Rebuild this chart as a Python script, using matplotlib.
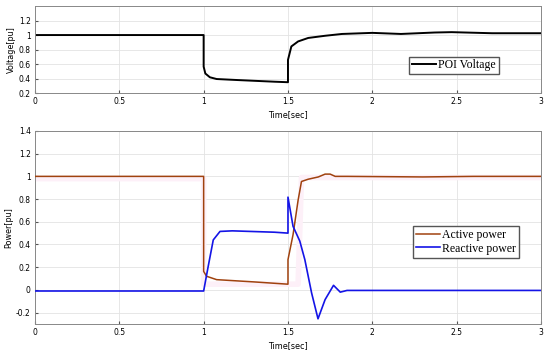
import matplotlib.pyplot as plt

# POI voltage (pu)
t_v = [0, 1.0, 1.0, 1.01, 1.037, 1.077, 1.2, 1.42, 1.5, 1.5, 1.52, 1.56, 1.62, 1.72,
       1.82, 2.0, 2.17, 2.37, 2.47, 2.71, 3.0]
v = [1.0, 1.0, 0.565, 0.47, 0.418, 0.394, 0.38, 0.357, 0.35, 0.658, 0.843, 0.912,
     0.96, 0.99, 1.015, 1.03, 1.015, 1.035, 1.04, 1.025, 1.025]

# active power (pu)
t_p = [0, 1.0, 1.0, 1.017, 1.077, 1.3, 1.5, 1.5, 1.53, 1.56, 1.58, 1.62, 1.68,
       1.72, 1.75, 1.78, 1.85, 2.3, 2.6, 3.0]
p = [1.0, 1.0, 0.163, 0.12, 0.09, 0.07, 0.05, 0.266, 0.486, 0.79, 0.955, 0.975,
     0.995, 1.02, 1.02, 1.0, 1.0, 0.995, 1.0, 1.0]

# reactive power (pu)
t_q = [0, 1.0, 1.027, 1.057, 1.097, 1.17, 1.42, 1.5, 1.5, 1.53, 1.57, 1.60, 1.64,
       1.678, 1.72, 1.77, 1.81, 1.85, 3.0]
q = [-0.01, -0.01, 0.207, 0.44, 0.515, 0.52, 0.508, 0.5, 0.817, 0.56, 0.43, 0.266,
     -0.027, -0.255, -0.086, 0.04, -0.02, -0.005, -0.005]

# faint active power reference
t_ref = [0, 1.0, 1.0, 1.56, 1.58, 3.0]
p_ref = [0.98, 0.98, 0.05, 0.05, 0.99, 0.99]

fig = plt.figure(figsize=(5.5, 3.54), dpi=100)
ax1 = fig.add_axes([0.0636, 0.737, 0.920, 0.246])
ax2 = fig.add_axes([0.0636, 0.085, 0.920, 0.545])

for ax in (ax1, ax2):
    ax.set_xlim(0, 3)
    ax.grid(True, color='#e3e3e3', linewidth=0.6)
    ax.set_axisbelow(True)
    ax.tick_params(direction='in', labelsize=5.5, length=2.5, color='#555555', pad=3)
    for s in ax.spines.values():
        s.set_color('#888888')
        s.set_linewidth(0.7)
    ax.set_xticks([0, 0.5, 1, 1.5, 2, 2.5, 3])
    ax.set_xticklabels(['0', '0.5', '1', '1.5', '2', '2.5', '3'])
    ax.set_xlabel('Time[sec]', fontsize=5.8, labelpad=3)

ax1.plot(t_v, v, color='black', linewidth=1.4, label='POI Voltage')
ax1.set_ylim(0.2, 1.4)
ax1.set_yticks([0.2, 0.4, 0.6, 0.8, 1.0, 1.2])
ax1.set_yticklabels(['0.2', '0.4', '0.6', '0.8', '1', '1.2'])
ax1.set_ylabel('Voltage[pu]', fontsize=5.8, labelpad=2)
ax1.legend(loc='upper left', bbox_to_anchor=(0.74, 0.42), fancybox=False,
           edgecolor='#555555', framealpha=1, borderaxespad=0,
           prop={'family': 'Liberation Serif', 'size': 8.5},
           handlelength=2.0, handletextpad=0.2, borderpad=0.25)

ax2.plot(t_ref, p_ref, color='#fdf0f8', linewidth=4, zorder=1)
ax2.plot(t_p, p, color='#a0420f', linewidth=1.1, label='Active power', zorder=3)
ax2.plot(t_q, q, color='#1414e6', linewidth=1.2, label='Reactive power', zorder=3)
ax2.set_ylim(-0.3, 1.4)
ax2.set_yticks([-0.2, 0, 0.2, 0.4, 0.6, 0.8, 1.0, 1.2, 1.4])
ax2.set_yticklabels(['-0.2', '0', '0.2', '0.4', '0.6', '0.8', '1', '1.2', '1.4'])
ax2.set_ylabel('Power[pu]', fontsize=5.8, labelpad=2)
ax2.legend(loc='upper left', bbox_to_anchor=(0.747, 0.505), fancybox=False,
           edgecolor='#555555', framealpha=1, borderaxespad=0,
           prop={'family': 'Liberation Serif', 'size': 8.5},
           handlelength=2.0, handletextpad=0.2, borderpad=0.25, labelspacing=0.1)

fig.savefig('out.png', dpi=100)
